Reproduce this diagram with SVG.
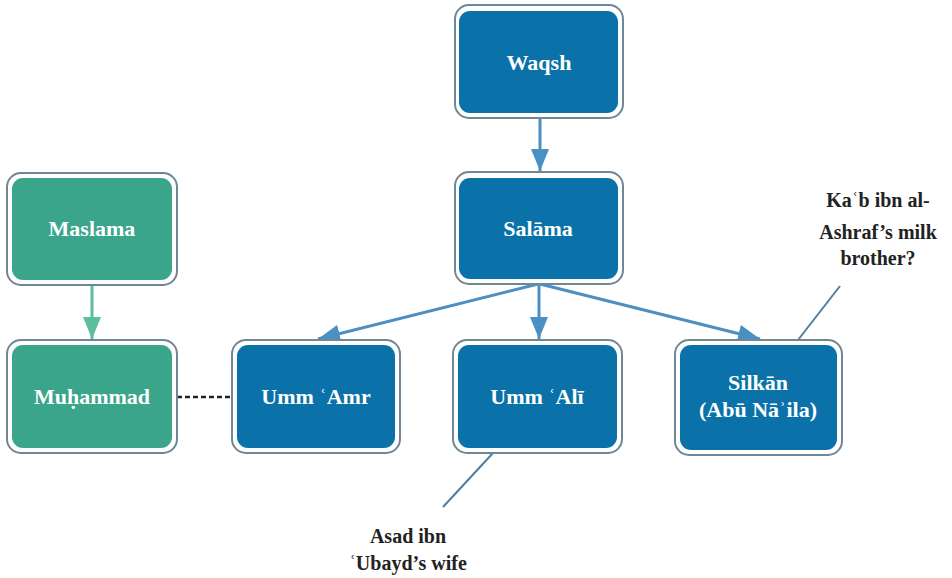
<svg xmlns="http://www.w3.org/2000/svg" width="952" height="578" viewBox="0 0 952 578">
<defs>
<style>
.outer{fill:#ffffff;stroke:#6f8797;stroke-width:2}
.blue{fill:#0a72a8}
.green{fill:#3aa58a}
.lbl{font-family:"Liberation Serif","DejaVu Serif",serif;font-size:22px;font-weight:bold;fill:#ffffff;text-anchor:middle}
.note{font-family:"Liberation Serif","DejaVu Serif",serif;font-size:20px;font-weight:bold;fill:#222222;text-anchor:middle}
.ab{stroke:#4a90c2;stroke-width:3;fill:none}
.ag{stroke:#5cbf9c;stroke-width:3;fill:none}
.call{stroke:#4d7fa0;stroke-width:2;fill:none}
.dash{stroke:#222222;stroke-width:2.5;stroke-dasharray:5,3;fill:none}
</style>
<marker id="hb" viewBox="0 0 22 18" refX="22" refY="9" markerWidth="22" markerHeight="18" markerUnits="userSpaceOnUse" orient="auto">
<path d="M0,0 L22,9 L0,18 Z" fill="#4a90c2"/>
</marker>
<marker id="hg" viewBox="0 0 22 18" refX="22" refY="9" markerWidth="22" markerHeight="18" markerUnits="userSpaceOnUse" orient="auto">
<path d="M0,0 L22,9 L0,18 Z" fill="#5cbf9c"/>
</marker>
</defs>
<rect width="952" height="578" fill="#ffffff"/>
<g id="connectors">
<line class="ab" x1="540" y1="117" x2="540" y2="171" marker-end="url(#hb)"/>
<line class="ab" x1="538" y1="284" x2="318" y2="339" marker-end="url(#hb)"/>
<line class="ab" x1="539" y1="284" x2="539" y2="339" marker-end="url(#hb)"/>
<line class="ab" x1="540" y1="284" x2="760" y2="339" marker-end="url(#hb)"/>
<line class="ag" x1="92" y1="285" x2="92" y2="339" marker-end="url(#hg)"/>
<line class="dash" x1="177" y1="397" x2="232" y2="397"/>
<line class="call" x1="798" y1="340" x2="840" y2="286"/>
<line class="call" x1="493" y1="453" x2="443" y2="507"/>
</g>
<g id="waqsh">
<rect class="outer" x="455" y="5" width="168" height="113" rx="14"/>
<rect class="blue" x="459" y="11" width="159" height="102" rx="11"/>
<text class="lbl" x="539" y="70">Waqsh</text>
</g>
<g id="salama">
<rect class="outer" x="455" y="172" width="168" height="112" rx="14"/>
<rect class="blue" x="459" y="178" width="159" height="101" rx="11"/>
<text class="lbl" x="538" y="236">Salāma</text>
</g>
<g id="maslama">
<rect class="outer" x="7" y="173" width="170" height="112" rx="14"/>
<rect class="green" x="12" y="178" width="160" height="102" rx="11"/>
<text class="lbl" x="92" y="236">Maslama</text>
</g>
<g id="muhammad">
<rect class="outer" x="7" y="340" width="170" height="113" rx="14"/>
<rect class="green" x="12" y="345" width="160" height="103" rx="11"/>
<text class="lbl" x="92" y="404">Muḥammad</text>
</g>
<g id="umm-amr">
<rect class="outer" x="232" y="340" width="168" height="113" rx="14"/>
<rect class="blue" x="237" y="345" width="158" height="103" rx="11"/>
<text class="lbl" x="316" y="404">Umm ʿAmr</text>
</g>
<g id="umm-ali">
<rect class="outer" x="453" y="340" width="169" height="113" rx="14"/>
<rect class="blue" x="458" y="345" width="159" height="103" rx="11"/>
<text class="lbl" x="537" y="404">Umm ʿAlī</text>
</g>
<g id="silkan">
<rect class="outer" x="675" y="340" width="167" height="115" rx="14"/>
<rect class="blue" x="680" y="345" width="157" height="105" rx="11"/>
<text class="lbl" x="758" y="390">Silkān</text>
<text class="lbl" x="758" y="417">(Abū Nāʾila)</text>
</g>
<g id="note-kab">
<text class="note" x="878" y="207">Kaʿb ibn al-</text>
<text class="note" x="878" y="239">Ashraf’s milk</text>
<text class="note" x="878" y="265">brother?</text>
</g>
<g id="note-asad">
<text class="note" x="408" y="543">Asad ibn</text>
<text class="note" x="408" y="570">ʿUbayd’s wife</text>
</g>
</svg>
